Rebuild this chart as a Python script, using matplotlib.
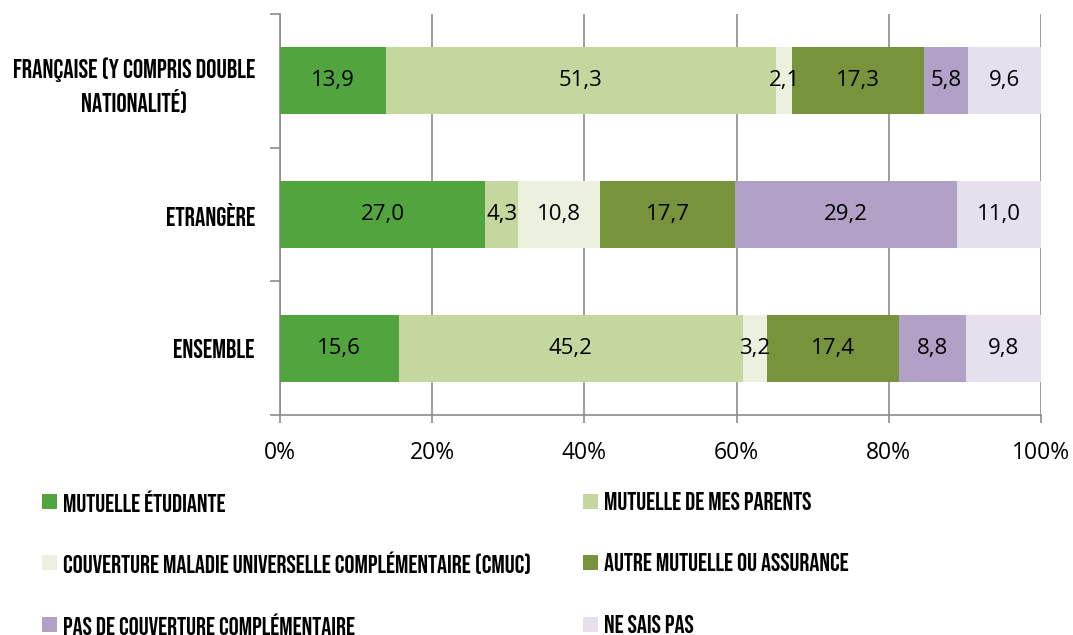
import numpy as np
import matplotlib.pyplot as plt
from matplotlib.patches import Rectangle

# ------------------------------------------------------------
# data
# ------------------------------------------------------------
categories = ["FRANÇAISE (Y COMPRIS DOUBLE\nNATIONALITÉ)", "ETRANGÈRE", "ENSEMBLE"]
series_names = [
    "MUTUELLE ÉTUDIANTE",
    "MUTUELLE DE MES PARENTS",
    "COUVERTURE MALADIE UNIVERSELLE COMPLÉMENTAIRE (CMUC)",
    "AUTRE MUTUELLE OU ASSURANCE",
    "PAS DE COUVERTURE COMPLÉMENTAIRE",
    "NE SAIS PAS",
]
mutuelle_etudiante = [13.9, 27.0, 15.6]
mutuelle_parents = [51.3, 4.3, 45.2]
cmuc = [2.1, 10.8, 3.2]
autre_mutuelle = [17.3, 17.7, 17.4]
pas_couverture = [5.8, 29.2, 8.8]
ne_sais_pas = [9.6, 11.0, 9.8]
x_ticks = [0, 20, 40, 60, 80, 100]
x_tick_labels = ["0%", "20%", "40%", "60%", "80%", "100%"]

colors = ["#52a43f", "#c4d79e", "#ebf1de", "#77933c", "#b2a1c7", "#e5e0ec"]
grey = "#8c8c8c"

cond_font = ["Bebas Neue", "DejaVu Sans"]
num_font = ["Open Sans", "DejaVu Sans"]

series = [mutuelle_etudiante, mutuelle_parents, cmuc, autre_mutuelle,
          pas_couverture, ne_sais_pas]

W, H = 1073, 635
fig = plt.figure(figsize=(W / 100, H / 100), dpi=100)
ax = fig.add_axes([280 / W, 1 - 415 / H, (1041 - 280) / W, (415 - 14) / H])

y = np.arange(len(categories))[::-1]  # top category first
left = np.zeros(len(categories))
for name, vals, col in zip(series_names, series, colors):
    vals = np.array(vals)
    ax.barh(y, vals, left=left, height=0.5, color=col, label=name, zorder=3)
    for yi, l, v in zip(y, left, vals):
        ax.text(l + v / 2, yi, f"{v:.1f}".replace(".", ","), ha="center",
                va="center", fontsize=16, family=num_font, zorder=4)
    left += vals

ax.set_xlim(0, 100)
ax.set_ylim(-0.5, len(categories) - 0.5)

# x axis
ax.set_xticks(x_ticks)
ax.set_xticklabels(x_tick_labels, family=num_font, fontsize=16.5)
ax.xaxis.grid(True, color=grey, linewidth=1.2, zorder=0)
ax.tick_params(axis="x", length=6, width=1.2, color=grey, pad=13)

# y axis: labels at bar centres, ticks at category boundaries
ax.set_yticks(y)
ax.set_yticklabels(categories, family=cond_font, fontsize=18.5,
                   multialignment="center", linespacing=1.3)
ax.tick_params(axis="y", length=0, pad=18)
ax.set_yticks(np.arange(-0.5, len(categories)), minor=True)
ax.tick_params(axis="y", which="minor", length=7, width=1.2, color=grey)

for s in ["top", "right"]:
    ax.spines[s].set_visible(False)
for s in ["left", "bottom"]:
    ax.spines[s].set_color(grey)
    ax.spines[s].set_linewidth(1.2)

# legend: 2 columns x 3 rows, placed by hand so the rows line up
col_x = [42, 583]
row_y = [501, 562, 624]
sq = 15
for i, (name, col) in enumerate(zip(series_names, colors)):
    cx = col_x[i % 2]
    ry = row_y[i // 2]
    fig.add_artist(Rectangle((cx / W, 1 - (ry + sq / 2) / H), sq / W, sq / H,
                             transform=fig.transFigure, facecolor=col,
                             edgecolor="none"))
    fig.text((cx + sq + 6) / W, 1 - ry / H, name, family=cond_font,
             fontsize=18, va="center_baseline", ha="left")

fig.savefig("out.png", dpi=100)
